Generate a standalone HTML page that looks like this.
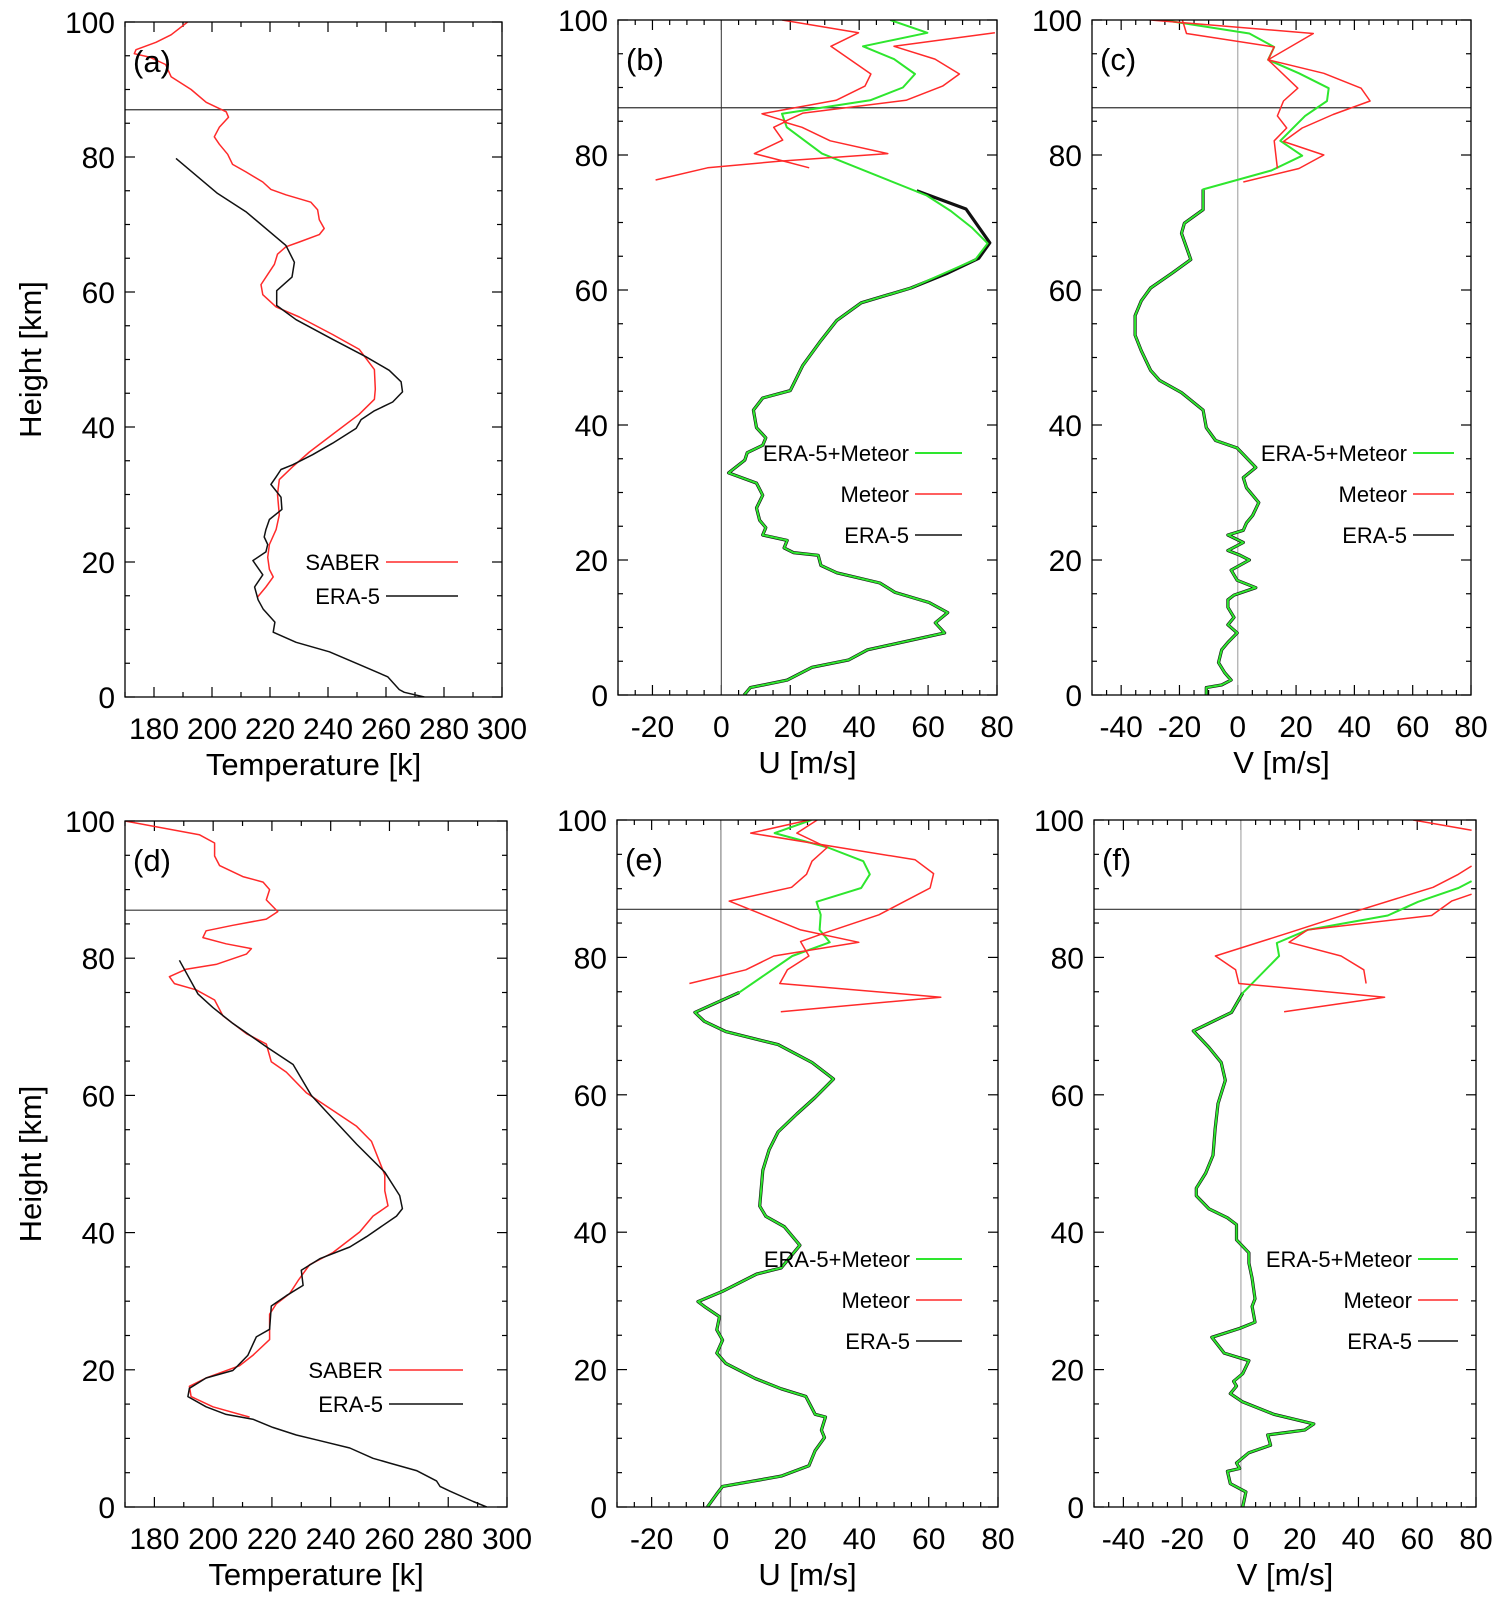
<!DOCTYPE html>
<html><head><meta charset="utf-8"><style>
body{margin:0;background:#fff}
svg{display:block}
text{font-family:"Liberation Sans",sans-serif;fill:#000}
</style></head><body>
<svg id="fig" width="1503" height="1602" viewBox="0 0 1503 1602" xmlns="http://www.w3.org/2000/svg"></svg>
<script>
// ---------- DATA (value, height km) ----------
const saberA = [[191.6,100],[185.9,98.1],[180.7,97],[173.8,95.9],[173.2,95.3],[178.4,94.8],[184,93.7],[185.9,91.9],[192.8,90],[198,88.1],[204.9,86.7],[205.7,85.9],[202.5,84.4],[200.8,83],[202.5,81.9],[205.4,80.4],[207.1,78.9],[211.7,77.8],[217.5,76.3],[220.3,75.2],[225.5,74.4],[234.1,73.3],[236.4,72.2],[237,70.7],[238.7,69.4],[237,68.5],[230.1,67.4],[225.5,66.7],[222.6,65.6],[221.5,64.1],[219.2,62.6],[216.9,61.1],[217.5,59.6],[222.1,57.8],[230.1,56.3],[241.6,53.7],[250.8,51.5],[256,48.5],[256.3,45.6],[256,44.1],[250.8,41.9],[241.6,38.9],[233.6,36.3],[227.8,34.1],[223.2,32.2],[222.6,30],[223.2,27],[222.1,24.8],[219.8,22.6],[219.2,20.7],[219.8,18.9],[221.1,17.8],[218.6,16.3],[215.7,14.8]];
const era5A = [[187.6,79.8],[201.9,74.6],[211.7,71.9],[225.5,66.9],[228.4,64.4],[227.6,62.2],[222.3,60.2],[222.3,58],[229,55.9],[241.6,53],[253.1,50.4],[261.1,48.4],[265.2,46.7],[265.7,45.2],[262.3,43.7],[256,42.4],[251.4,41.1],[249.7,39.8],[241.6,37.6],[234.7,35.9],[227.8,34.4],[223.8,33.7],[222.1,32.6],[220.3,31.5],[223.8,29.6],[224.1,27.8],[219.8,26.3],[218.6,24.8],[218,23.7],[219.2,22.6],[218.6,21.5],[214.1,20.2],[217.5,18.1],[214.7,16.3],[215.9,14.4],[217.7,13],[221.7,11.1],[221.1,9.6],[229,8.1],[240.5,6.7],[250.8,4.8],[260.6,3],[264.6,1.1],[266.3,0.7],[273.2,0]];
const era5B = [[56.7,74.7],[71,72],[77.9,67],[74.7,64.7],[65.7,62.5],[55,60.3],[40.6,58.1],[33.5,55.5],[28.9,52.5],[23.6,48.8],[20,45.1],[12,44],[9.3,42.2],[10.2,39.6],[12.9,38.1],[12,37],[7.5,35.9],[6.8,34.8],[2.1,32.9],[10.2,31.4],[12,29.6],[10.2,27.7],[11.1,25.9],[12.9,24.8],[12,23.7],[19.1,22.9],[18.2,21.8],[20.9,21.1],[28.1,20.7],[28.9,19.2],[33.5,18.1],[46,16.6],[50.4,15.2],[60.3,13.7],[65.7,12.2],[62.1,10.7],[64.8,9.2],[55,8.1],[42.4,6.7],[37,5.2],[26.3,4.1],[19.1,2.2],[8.4,1.1],[6.6,0]];
const mergedUpperB = [[49,100],[59.8,98.1],[41.1,96.1],[50.1,94.2],[56.2,92],[52.7,90],[43.2,88.1],[17.6,86.1],[19,84.1],[29.2,80.2],[59.6,74],[66.6,71.7],[72.8,69.2],[77.3,66.9],[73.7,64.5]];
const meteorB1 = [[17.6,100],[39.8,98.1],[31.8,96.1],[43.4,92],[41.7,90.2],[33.3,88.1],[11.8,86.1],[18.8,85],[15.2,84.1],[17.8,82.2],[9.6,80.2],[18.1,79.1],[25.5,78.1]];
const meteorB2 = [[79.4,98.1],[50.1,96.1],[62,94.2],[69.1,92],[64.2,90.2],[53.6,88.1],[23.7,86.2],[18.1,84.9],[23.4,84.1],[31.6,82.1],[48.3,80.2],[17.1,79.1],[-4,78.1],[-19.1,76.3]];
const era5C = [[-11.9,74.9],[-11.9,71.9],[-18.3,69.9],[-19.3,68.4],[-16.1,64.5],[-22.5,62.5],[-29.9,60.3],[-33.1,58.4],[-35.2,56.2],[-35.2,53.3],[-33.1,51],[-29.9,48.1],[-26.8,46.6],[-19.3,44.8],[-11.9,42.2],[-10.8,39.6],[-7.6,37.7],[-0.2,36.6],[6.2,33.7],[1.9,32.2],[3,30.7],[7.2,28.5],[5.1,26.6],[3,25.5],[1.9,24.4],[-3.4,23.7],[1.9,22.6],[-3.4,21.4],[0.8,20.7],[4,20],[-2.3,18.5],[-0.2,17],[6.2,15.9],[-1.3,14.8],[-3.4,14.1],[-3.4,13],[-1.3,11.5],[-3.4,10.4],[-0.2,9.2],[-3.4,7.8],[-5.5,6.7],[-6.6,4.8],[-4.5,3.3],[-2.3,2.2],[-5.5,1.5],[-10.8,1.1],[-10.8,0]];
const mergedUpperC = [[-25.7,100],[4,98],[12.5,96],[10.4,94.1],[21,92.1],[31.2,89.9],[30.6,88],[23.1,85.8],[14.6,82.1],[22.1,79.9],[11.5,77.7]];
const meteorC1 = [[-29.9,100],[25.9,98],[10.4,94.1],[20.6,89.9],[15.7,88],[13.6,85.8],[16.8,84],[12.5,82.1],[13.6,78]];
const meteorC2 = [[-19,100],[-17.6,98],[12.5,96],[10.4,94.1],[29.5,92.1],[42.3,89.9],[45.4,88],[32.7,86],[22.1,84],[15.7,82],[29.5,80],[21,78],[1.9,76]];
const saberD = [[170,100],[195.3,98],[200.5,96.8],[200.5,94.9],[202.2,93.5],[210.1,91.9],[217,91.1],[219.2,90],[218.1,88.5],[222,86.8],[218.1,85.7],[206.7,84.8],[197.6,84],[196.5,83],[204.4,82.1],[213,81.4],[211.3,80.6],[201,79.1],[190.8,78.4],[185.1,77.3],[186.8,76.3],[194.2,75.4],[200.5,73.9],[203.3,71.6],[211.3,69],[218.1,67.5],[219.8,64.9],[224.9,63.4],[231.7,60.4],[240.8,57.8],[248.8,55.5],[253.9,53.3],[258.4,48.4],[258.4,46.1],[259.5,43.9],[254.4,42.4],[249.9,40.1],[240.8,37.1],[232.8,35.3],[228.9,33],[226,31.1],[221.5,29.6],[219.2,28.1],[219.2,24.4],[213.5,22.1],[209,20.6],[197.6,18.8],[191.9,17.6],[192.5,16.1],[199.9,14.6],[212.4,13.1]];
const era5D = [[188.5,79.7],[194.8,74.8],[199.9,72.8],[206.7,70.5],[218.1,67.1],[227.2,64.5],[233.4,60],[240.8,56.6],[248.8,52.9],[258.4,48.8],[263.5,45.4],[264.4,43.5],[262.4,42.4],[252.2,39.4],[246.5,37.9],[236.3,36.2],[230,34.5],[230.6,32.3],[224.9,30.8],[219.8,29.3],[219.2,25.9],[214.7,24.8],[211.8,22.1],[208.4,20.6],[206.7,19.9],[197.6,18.8],[191.9,17.3],[191.4,16.1],[197.6,14.6],[204.4,13.5],[213.5,12.8],[220.3,11.6],[228.3,10.5],[235.1,9.8],[246.5,8.6],[254.4,7.1],[260.1,6.4],[269.2,5.3],[276,3.8],[277.2,3],[280.6,2.3],[288.5,0.8],[293.1,0]];
const era5E = [[5.3,74.9],[-7.5,72],[-4.8,70.7],[1.4,69.2],[16.5,67.3],[26.3,64.7],[32.5,62.3],[27.2,59.6],[21.9,57.2],[16.5,54.6],[13.9,52],[12.1,49],[11.2,43.8],[13,42.3],[18.3,40.8],[22.8,38.1],[17.4,34.8],[10.3,33.9],[0.5,31.4],[-6.6,29.9],[-4.8,29.2],[-0.4,27.7],[-1.2,25.8],[0.5,24.3],[-1.2,22.4],[1.4,20.9],[9.9,18.7],[17.4,17.2],[24.5,16.1],[27.2,13.5],[30.2,13.1],[29,11.2],[29.9,10.1],[27.2,8.2],[25.4,6],[17.4,4.5],[8.5,3.7],[0.5,3],[-1.2,1.9],[-3.9,0]];
const mergedUpperE = [[26.1,100],[15.5,98.1],[30.9,96],[41.1,94],[43,92.1],[40.5,90.1],[27.6,88.1],[28.8,86.2],[28.5,84],[31.4,82.2],[20.6,80.2]];
const meteorE1 = [[27.8,100],[21.9,98.1],[30.7,96],[26.3,94],[24.7,92.1],[20.4,90.2],[2.4,88.2],[23,84],[39.8,82.2],[15.3,80.2],[7.2,78.2],[-9.1,76.2]];
const meteorE2 = [[25.4,100],[8.6,98.1],[56.1,94.2],[61.4,92.2],[60.4,90.1],[45.6,86.2],[30.2,83.6],[23,82.3],[25.4,80.2],[19.2,78.2],[17,76.2],[63.5,74.2],[17.3,72.1]];
const era5F = [[0.6,74.8],[-3.2,72],[-16.2,69.3],[-10.9,66.9],[-6.7,64.7],[-5.3,62.1],[-7.8,58.7],[-8.8,55],[-9.5,51.2],[-12,48.6],[-15.2,46.4],[-15.2,45.3],[-10.9,43.4],[-4.6,42.1],[-1.5,41.1],[-1.5,38.9],[2.7,37],[2.7,35.5],[3.8,33.3],[4.8,30.3],[3.8,29.2],[4.8,26.9],[-0.4,26],[-9.9,24.7],[-5.7,22.4],[2.7,21.3],[0.6,19.4],[-2.5,18.3],[-1.5,17.6],[-3.6,16.5],[0.6,15.3],[11.2,13.5],[24.8,12.1],[21.7,11.2],[9.1,10.5],[10.1,9],[2.7,7.9],[-1.5,6.4],[-0.4,5.6],[-4.6,5.2],[-3.6,3.4],[1.7,2.2],[0.6,0]];
const mergedUpperF = [[78.5,91.1],[74,90.1],[60.3,88.1],[50,86.1],[22.7,84],[12.2,82.1],[13,80.2]];
const meteorF1 = [[58.6,100],[78.5,98.5]];
const meteorF2 = [[78.5,93.3],[74,92.1],[65.4,90.2],[35.2,86.2],[16.4,83.6],[-8.7,80.2],[-1.8,78.2],[-0.7,76.2],[48.9,74.2],[14.7,72.1]];
const meteorF3 = [[78.5,89.2],[71.7,88.2],[64.9,86.1],[22.7,84],[16.4,82.2],[34.1,80.2],[41.8,78.2],[42.6,76.2]];
const tempTicks = [180,200,220,240,260,280,300];
const uTicks = [-20,0,20,40,60,80];
const vTicks = [-40,-20,0,20,40,60,80];
const hTicks = [0,20,40,60,80,100];

const NS="http://www.w3.org/2000/svg";
const svg=document.getElementById('fig');
const RED="#ff2a2a", GREEN="#2ee62e", BLACK="#111";
function mk(tag,attrs,parent){const e=document.createElementNS(NS,tag);for(const k in attrs)e.setAttribute(k,attrs[k]);(parent||svg).appendChild(e);return e;}

function panel(p){
  const g=mk('g',{});
  
  
  const sx=v=>p.L+(v-p.x0)/(p.x1-p.x0)*(p.R-p.L);
  const sy=h=>p.B-(h/100)*(p.B-p.T);
  const clip=mk('clipPath',{id:'clip'+p.id},g);
  mk('rect',{x:p.L,y:p.T,width:p.R-p.L,height:p.B-p.T},clip);
  // ticks
  const tk=mk('g',{stroke:'#000','stroke-width':1.2},g);
  
  
  for(let v=p.x0;v<=p.x1+1e-6;v+=p.xminor){
    const major=Math.abs(((v-p.xmajBase)%p.xmajor+p.xmajor)%p.xmajor)<1e-6;
    const len=major?10:5;const x=sx(v);
    mk('line',{x1:x,y1:p.B,x2:x,y2:p.B-len},tk);
    mk('line',{x1:x,y1:p.T,x2:x,y2:p.T+len},tk);
  }
  for(let h=0;h<=100;h+=5){
    const len=h%20===0?10:5;const y=sy(h);
    mk('line',{x1:p.L,y1:y,x2:p.L+len,y2:y},tk);
    mk('line',{x1:p.R,y1:y,x2:p.R-len,y2:y},tk);
  }
  // zero line / 87 km line
  if(p.zero){const z=mk('line',{x1:sx(0),y1:p.T,x2:sx(0),y2:p.B,stroke:p.zeroColor,'stroke-width':1.2},g);
    
    }
  const hl=mk('line',{x1:p.L,y1:sy(87),x2:p.R,y2:sy(87),stroke:'#333','stroke-width':1.2},g);
  
  
  // series
  const sg=mk('g',{'clip-path':'url(#clip'+p.id+')',fill:'none','stroke-linejoin':'round'},g);
  p.series.forEach(s=>{
    const pl=mk('polyline',{points:s.d.map(q=>sx(q[0]).toFixed(1)+','+sy(q[1]).toFixed(1)).join(' '),stroke:s.c,'stroke-width':s.w},sg);
    
    
  });
  // frame
  const fr=mk('rect',{x:p.L,y:p.T,width:p.R-p.L,height:p.B-p.T,fill:'none',stroke:'#000','stroke-width':1.3},g);
  
  
  // tick labels
  p.xt.forEach(v=>{const t=mk('text',{x:sx(v),y:p.B+42,'font-size':30,'text-anchor':'middle'},g);t.textContent=v;
    
    });
  hTicks.forEach(h=>{const t=mk('text',{x:p.L-10,y:sy(h)+11,'font-size':30,'text-anchor':'end'},g);t.textContent=h;
    
    });
  const xl=mk('text',{x:(p.L+p.R)/2,y:p.B+78,'font-size':31,'text-anchor':'middle'},g);xl.textContent=p.xlabel;
  
  
  if(p.ylabel){const yl=mk('text',{x:0,y:0,'font-size':31,'text-anchor':'middle',transform:'translate(41,'+((p.T+p.B)/2)+') rotate(-90)'},g);yl.textContent='Height [km]';
    
    }
  const pt=mk('text',{x:p.L+8,y:p.T+50,'font-size':31},g);pt.textContent='('+p.id+')';
  
  
  // legend
  p.legend.forEach((l,i)=>{
    const y=p.T+p.legY+i*p.legDy;
    const t=mk('text',{x:p.legX,y:y+8,'font-size':22,'text-anchor':'end'},g);t.textContent=l.t;
    
    
    const ln=mk('line',{x1:p.legX+6,y1:y,x2:p.legX2,y2:y,stroke:l.c,'stroke-width':l.c===GREEN?2:1.6},g);
    
    
  });
}

const tempLeg=[{t:'SABER',c:RED},{t:'ERA-5',c:BLACK}];
const windLeg=[{t:'ERA-5+Meteor',c:GREEN},{t:'Meteor',c:RED},{t:'ERA-5',c:BLACK}];
const R1={T:20,B:697}, R2={T:821,B:1507};

panel({id:'a',L:125,R:502,T:R1.T+2,B:R1.B,x0:170,x1:300,xminor:10,xmajor:20,xmajBase:180,xt:tempTicks,xlabel:'Temperature [k]',ylabel:true,
  series:[{d:saberA,c:RED,w:1.5,name:'saber-temperature-line'},{d:era5A,c:BLACK,w:1.5,name:'era5-temperature-line'}],
  legend:tempLeg,legX:380,legX2:458,legY:540,legDy:34});
panel({id:'b',L:618,R:997,T:R1.T,B:R1.B-2,x0:-30,x1:80,xminor:5,xmajor:20,xmajBase:0,xt:uTicks,xlabel:'U [m/s]',zero:true,zeroColor:'#555',
  series:[{d:era5B,c:BLACK,w:3.2,name:'era5-u-line'},{d:mergedUpperB.concat(era5B.slice(5)),c:GREEN,w:2,name:'era5-meteor-u-line'},{d:meteorB1,c:RED,w:1.5,name:'meteor-u-line'},{d:meteorB2,c:RED,w:1.5,name:'meteor-u-line-2'}],
  legend:windLeg,legX:909,legX2:962,legY:433,legDy:41});
panel({id:'c',L:1092,R:1471,T:R1.T,B:R1.B-2,x0:-50,x1:80,xminor:5,xmajor:20,xmajBase:0,xt:vTicks,xlabel:'V [m/s]',zero:true,zeroColor:'#aaa',
  series:[{d:era5C,c:BLACK,w:3.2,name:'era5-v-line'},{d:mergedUpperC.concat(era5C),c:GREEN,w:2,name:'era5-meteor-v-line'},{d:meteorC1,c:RED,w:1.5,name:'meteor-v-line'},{d:meteorC2,c:RED,w:1.5,name:'meteor-v-line-2'}],
  legend:windLeg,legX:1407,legX2:1454,legY:433,legDy:41});
panel({id:'d',L:125,R:507,T:R2.T,B:R2.B,x0:170,x1:300,xminor:10,xmajor:20,xmajBase:180,xt:tempTicks,xlabel:'Temperature [k]',ylabel:true,
  series:[{d:saberD,c:RED,w:1.5,name:'saber-temperature-line'},{d:era5D,c:BLACK,w:1.5,name:'era5-temperature-line'}],
  legend:tempLeg,legX:383,legX2:463,legY:549,legDy:34});
panel({id:'e',L:617,R:998,T:R2.T-1,B:R2.B,x0:-30,x1:80,xminor:5,xmajor:20,xmajBase:0,xt:uTicks,xlabel:'U [m/s]',zero:true,zeroColor:'#888',
  series:[{d:era5E,c:BLACK,w:3.2,name:'era5-u-line'},{d:mergedUpperE.concat(era5E),c:GREEN,w:2,name:'era5-meteor-u-line'},{d:meteorE1,c:RED,w:1.5,name:'meteor-u-line'},{d:meteorE2,c:RED,w:1.5,name:'meteor-u-line-2'}],
  legend:windLeg,legX:910,legX2:962,legY:439,legDy:41});
panel({id:'f',L:1094,R:1476,T:R2.T-1,B:R2.B,x0:-50,x1:80,xminor:5,xmajor:20,xmajBase:0,xt:vTicks,xlabel:'V [m/s]',zero:true,zeroColor:'#aaa',
  series:[{d:era5F,c:BLACK,w:3.2,name:'era5-v-line'},{d:mergedUpperF.concat(era5F),c:GREEN,w:2,name:'era5-meteor-v-line'},{d:meteorF1,c:RED,w:1.5,name:'meteor-v-line'},{d:meteorF2,c:RED,w:1.5,name:'meteor-v-line-2'},{d:meteorF3,c:RED,w:1.5,name:'meteor-v-line-3'}],
  legend:windLeg,legX:1412,legX2:1458,legY:439,legDy:41});
</script>
</body></html>
